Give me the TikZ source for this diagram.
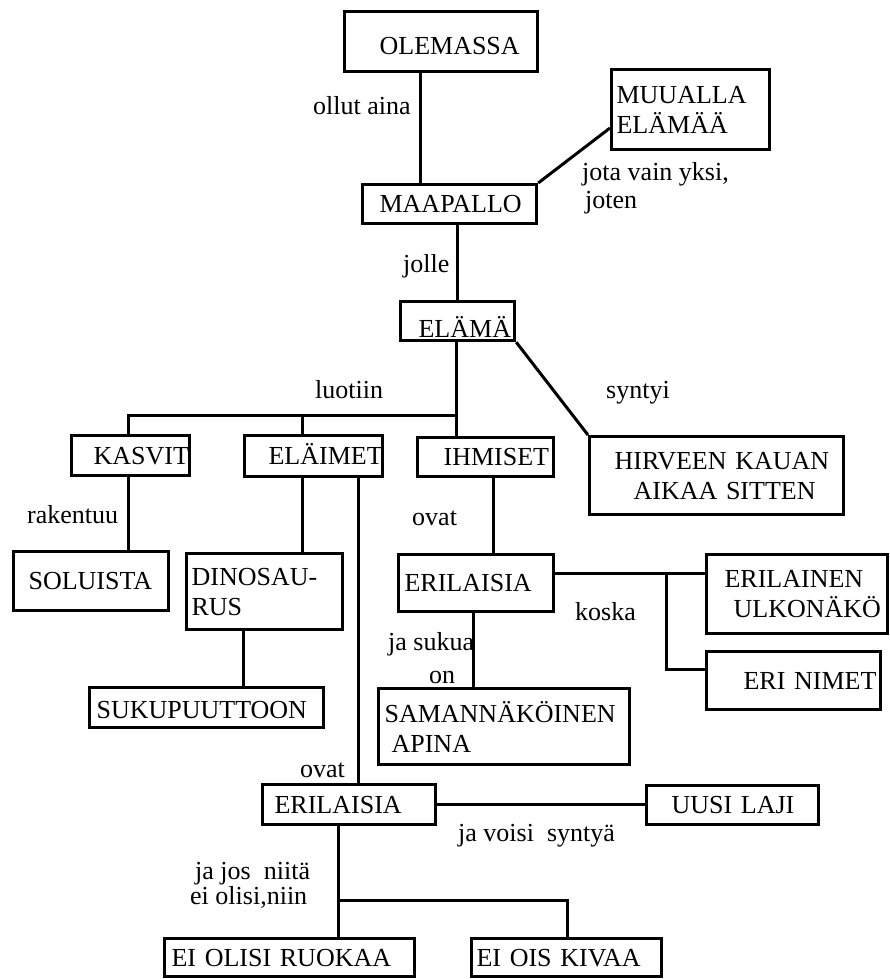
\documentclass[tikz,border=0pt]{standalone}
\usepackage{fontspec}
\setmainfont{Liberation Serif}
\begin{document}
\begin{tikzpicture}[x=1pt, y=-1pt,
  every node/.style={font=\fontsize{26pt}{30pt}\selectfont},
  box/.style={draw, line width=3.2pt, inner sep=0pt, anchor=north west, align=left},
  one/.style={text depth=0pt, text height=#1},
  one/.default=17.2pt,
  lbl/.style={inner sep=0pt, anchor=base west},
  link/.style={line width=3pt}]
\useasboundingbox (0,0) rectangle (889,979);

% concept boxes (top-left corner, width, height)
\node[box, one=25pt, minimum width=193pt, text width=193pt, minimum height=60pt] (olemassa) at (343,10) {\hspace*{35pt}OLEMASSA};
\node[box, one, minimum width=174pt, text width=174pt, minimum height=39pt] (maapallo) at (361,183) {\hspace*{17pt}MAAPALLO};
\node[box, minimum width=158pt, text width=158pt, minimum height=80pt] (muualla) at (610,68) {\hspace*{5pt}MUUALLA\\\hspace*{5pt}ELÄMÄÄ};
\node[box, one=33pt, minimum width=114pt, text width=114pt, minimum height=39pt] (elama) at (399,300) {\hspace*{18pt}ELÄMÄ};
\node[box, one, minimum width=118pt, text width=118pt, minimum height=40pt] (kasvit) at (70,434) {\hspace*{22pt}KASVIT};
\node[box, one, minimum width=138pt, text width=138pt, minimum height=41pt] (elaimet) at (243,434) {\hspace*{24pt}ELÄIMET};
\node[box, one, minimum width=136pt, text width=136pt, minimum height=39pt] (ihmiset) at (416,436) {\hspace*{26pt}IHMISET};
\node[box, minimum width=254pt, text width=254pt, minimum height=78pt] (hirveen) at (588,435) {\hspace*{25pt}HIRVEEN KAUAN\\\hspace*{44pt}AIKAA SITTEN};
\node[box, one, minimum width=155pt, text width=155pt, minimum height=59pt] (soluista) at (12,550) {\hspace*{15pt}SOLUISTA};
\node[box, minimum width=156pt, text width=156pt, minimum height=76pt] (dinosaurus) at (185,552) {\hspace*{5pt}DINOSAU-\\\hspace*{5pt}RUS};
\node[box, one=21pt, minimum width=234pt, text width=234pt, minimum height=40pt] (sukupuuttoon) at (88,686) {\hspace*{7pt}SUKUPUUTTOON};
\node[box, one, minimum width=155pt, text width=155pt, minimum height=57pt] (erilaisia1) at (397,553) {\hspace*{6pt}ERILAISIA};
\node[box, minimum width=181pt, text width=181pt, minimum height=79pt] (erilainen) at (705,553) {\hspace*{18pt}ERILAINEN\\\hspace*{27pt}ULKONÄKÖ};
\node[box, one, minimum width=174pt, text width=174pt, minimum height=58pt] (erinimet) at (705,650) {\hspace*{37pt}ERI NIMET};
\node[box, minimum width=251pt, text width=251pt, minimum height=76pt] (samannakoinen) at (377,687) {\hspace*{6pt}SAMANNÄKÖINEN\\\hspace*{13pt}APINA};
\node[box, one, minimum width=173pt, text width=173pt, minimum height=40pt] (erilaisia2) at (261,783) {\hspace*{12pt}ERILAISIA};
\node[box, one, minimum width=172pt, text width=172pt, minimum height=39pt] (uusilaji) at (645,784) {\hspace*{25pt}UUSI LAJI};
\node[box, one, minimum width=250pt, text width=250pt, minimum height=38pt] (eiolisi) at (163,937) {\hspace*{7pt}EI OLISI RUOKAA};
\node[box, one, minimum width=190pt, text width=190pt, minimum height=38pt] (eiois) at (470,937) {\hspace*{5pt}EI OIS KIVAA};

% linking phrases
\node[lbl] (l1) at (313,115) {ollut aina};
\node[lbl] (l2a) at (582,180) {jota vain yksi,};
\node[lbl] (l2b) at (585,208) {joten};
\node[lbl] (l3) at (403,272) {jolle};
\node[lbl] (l4) at (315,398) {luotiin};
\node[lbl] (l5) at (606,398) {syntyi};
\node[lbl] (l6) at (27,523) {rakentuu};
\node[lbl] (l7) at (412,525) {ovat};
\node[lbl] (l8) at (575,620) {koska};
\node[lbl] (l9a) at (388,650) {ja sukua};
\node[lbl] (l9b) at (429,683) {on};
\node[lbl] (l10) at (300,777) {ovat};
\node[lbl] (l11) at (458,841) {ja voisi\ \ syntyä};
\node[lbl] (l12a) at (195,879) {ja jos\ \ niitä};
\node[lbl] (l12b) at (190,904) {ei olisi,niin};

% guide points for the connectors
\coordinate (x1) at (420,0);
\coordinate (x2) at (457,0);
\coordinate (mu) at (610,128);
\coordinate (br) at (456,415);
\coordinate (xk) at (128,0);
\coordinate (xe) at (302,0);
\coordinate (xd) at (243,0);
\coordinate (xe2) at (358,0);
\coordinate (xi) at (493,0);
\coordinate (xs) at (473,0);
\coordinate (ko) at (666,573);
\coordinate (yn) at (0,669);
\coordinate (bj) at (338,900);
\coordinate (xo) at (567,0);

% connectors
\draw[link] (olemassa.south -| x1) -- (maapallo.north -| x1);
\draw[link] (maapallo.north east) -- (mu);
\draw[link] (maapallo.south -| x2) -- (elama.north -| x2);
\draw[link] (elama.south -| br) -- (ihmiset.north -| br);
\draw[link] (kasvit.north -| xk) |- (br);
\draw[link] (elaimet.north -| xe) -- (xe |- br);
\draw[link] (elama.south east) -- (hirveen.north west);
\draw[link] (kasvit.south -| xk) -- (soluista.north -| xk);
\draw[link] (elaimet.south -| xe) -- (dinosaurus.north -| xe);
\draw[link] (dinosaurus.south -| xd) -- (sukupuuttoon.north -| xd);
\draw[link] (elaimet.south -| xe2) -- (erilaisia2.north -| xe2);
\draw[link] (ihmiset.south -| xi) -- (erilaisia1.north -| xi);
\draw[link] (erilaisia1.east |- ko) -- (erilainen.west |- ko);
\draw[link] (ko) |- (erinimet.west |- yn);
\draw[link] (erilaisia1.south -| xs) -- (samannakoinen.north -| xs);
\draw[link] (erilaisia2.east) -- (uusilaji.west |- erilaisia2.east);
\draw[link] (erilaisia2.south -| bj) -- (eiolisi.north -| bj);
\draw[link] (bj) -| (eiois.north -| xo);
\end{tikzpicture}
\end{document}
